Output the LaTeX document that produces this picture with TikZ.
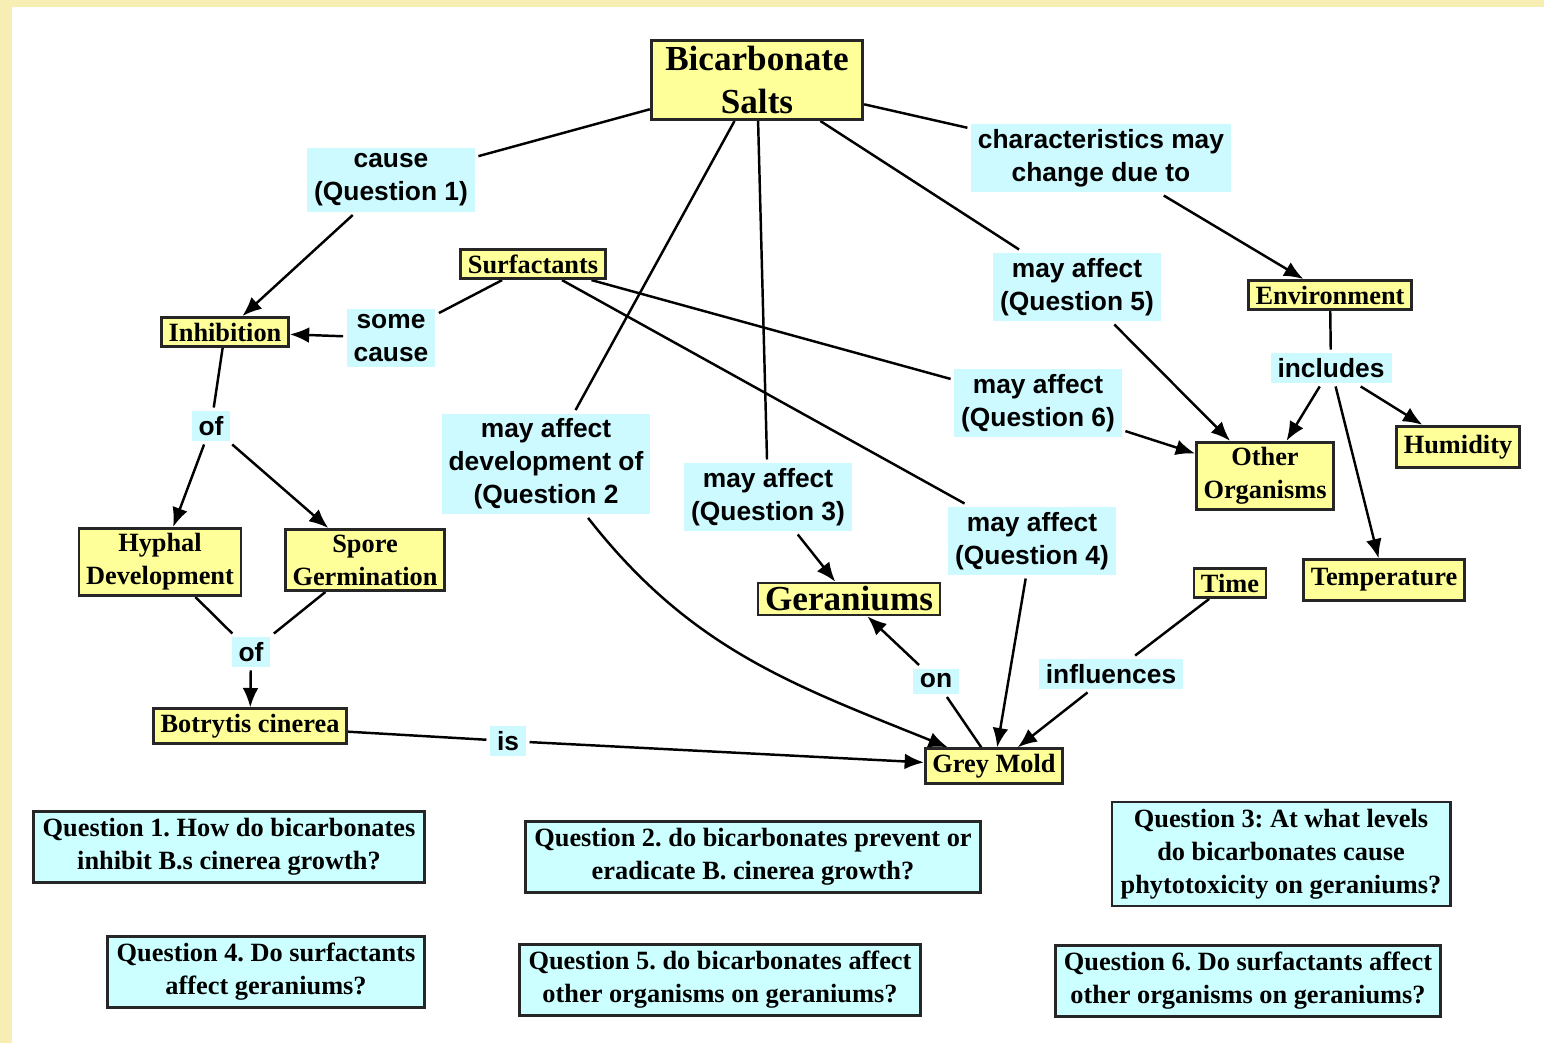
\documentclass[tikz,border=0pt]{standalone}
\usepackage{fontspec}
\setmainfont{Liberation Serif}
\setsansfont{Liberation Sans}
\usetikzlibrary{arrows.meta, backgrounds}
\definecolor{frameyellow}{RGB}{247,238,180}
\definecolor{conceptyellow}{RGB}{255,255,153}
\definecolor{linkcyan}{RGB}{204,250,255}
\definecolor{questioncyan}{RGB}{204,255,255}
\frenchspacing

\begin{document}
\begin{tikzpicture}[x=0.02cm, y=-0.02cm,
  concept/.style={draw=black!85, fill=conceptyellow, line width=1.6pt, align=center,
    font=\bfseries\fontsize{15}{18.7}\selectfont, inner xsep=4pt, inner ysep=3pt},
  bigconcept/.style={concept, font=\bfseries\fontsize{20}{25}\selectfont},
  linkword/.style={fill=linkcyan, align=center, outer sep=2pt,
    font=\sffamily\bfseries\fontsize{15}{18.7}\selectfont, inner xsep=4pt, inner ysep=3pt},
  question/.style={draw=black!85, fill=questioncyan, line width=1.6pt, align=center,
    font=\bfseries\fontsize{15}{18.7}\selectfont, inner xsep=5pt, inner ysep=4pt},
  arrow/.style={-{Latex[length=11pt,width=9pt]}}]

\useasboundingbox (0,0) rectangle (1544,1043);

% concepts
\node[bigconcept, inner xsep=8pt] (bicarb) at (757,80) {Bicarbonate\\Salts};
\node[concept] (surf) at (533,264) {Surfactants};
\node[concept] (inhib) at (225,332) {Inhibition};
\node[concept] (hyphal) at (160,562) {Hyphal\\Development};
\node[concept] (spore) at (365,560) {Spore\\Germination};
\node[concept] (botrytis) at (250,726) {Botrytis cinerea};
\node[concept] (grey) at (994,766) {Grey Mold};
\node[bigconcept, inner ysep=2pt] (geran) at (849,599) {Geraniums};
\node[concept] (env) at (1330,295) {Environment};
\node[concept] (other) at (1265,476) {Other\\Organisms};
\node[concept, inner ysep=5pt] (humid) at (1458,447) {Humidity};
\node[concept, inner ysep=5pt] (temp) at (1384,580) {Temperature};
\node[concept] (time) at (1230,583) {Time};

% linking words
\node[linkword] (cause) at (391,180) {cause\\(Question 1)};
\node[linkword] (somecause) at (391,338) {some\\cause};
\node[linkword] (ofa) at (211,426) {of};
\node[linkword] (ofb) at (251,652) {of};
\node[linkword] (qtwo) at (546,464) {may affect\\development of\\(Question 2};
\node[linkword] (qthree) at (768,497) {may affect\\(Question 3)};
\node[linkword] (charact) at (1101,158) {characteristics may\\change due to};
\node[linkword] (qfive) at (1077,287) {may affect\\(Question 5)};
\node[linkword] (qsix) at (1038,403) {may affect\\(Question 6)};
\node[linkword] (qfour) at (1032,541) {may affect\\(Question 4)};
\node[linkword] (includes) at (1331,368) {includes};
\node[linkword] (on) at (936,681) {on};
\node[linkword] (influences) at (1111,674) {influences};
\node[linkword] (is) at (508,741) {is};

% questions
\node[question] (questA) at (229,847) {Question 1. How do bicarbonates\\inhibit B.s cinerea growth?};
\node[question] (questB) at (753,857) {Question 2. do bicarbonates prevent or\\eradicate B. cinerea growth?};
\node[question] (questC) at (1281,854) {Question 3: At what levels\\do bicarbonates cause\\phytotoxicity on geraniums?};
\node[question] (questD) at (266,972) {Question 4. Do surfactants\\affect geraniums?};
\node[question] (questE) at (720,980) {Question 5. do bicarbonates affect\\other organisms on geraniums?};
\node[question] (questF) at (1248,981) {Question 6. Do surfactants affect\\other organisms on geraniums?};

\begin{scope}[on background layer]
\fill[frameyellow] (0,0) rectangle (1544,1043);
\fill[white] (12,7) rectangle (1544,1043);

\begin{scope}[line width=1.4pt]
\draw (bicarb) -- (cause);
\draw (bicarb) -- (qtwo);
\draw (bicarb) -- (qthree);
\draw (bicarb) -- (charact);
\draw (bicarb) -- (qfive);
\draw (surf) -- (somecause);
\draw (surf) -- (qsix);
\draw (surf) -- (qfour);
\draw (inhib) -- (ofa);
\draw (hyphal) -- (ofb);
\draw (spore) -- (ofb);
\draw (botrytis) -- (is);
\draw (env) -- (includes);
\draw (time) -- (influences);
\draw (grey) -- (on);

\draw[arrow] (cause) -- (inhib);
\draw[arrow] (somecause) -- (inhib);
\draw[arrow] (ofa) -- (hyphal);
\draw[arrow] (ofa) -- (spore);
\draw[arrow] (ofb) -- (botrytis);
\draw[arrow] (is) -- (grey);
\draw[arrow] (qtwo) to[out=-52, in=158] (grey);
\draw[arrow] (qthree) -- (geran);
\draw[arrow] (charact) -- (env);
\draw[arrow] (qfive) -- (other);
\draw[arrow] (qsix) -- (other);
\draw[arrow] (qfour) -- (grey);
\draw[arrow] (includes) -- (other);
\draw[arrow] (includes) -- (humid);
\draw[arrow] (includes) -- (temp);
\draw[arrow] (influences) -- (grey);
\draw[arrow] (on) -- (geran);
\end{scope}
\end{scope}
\end{tikzpicture}
\end{document}
